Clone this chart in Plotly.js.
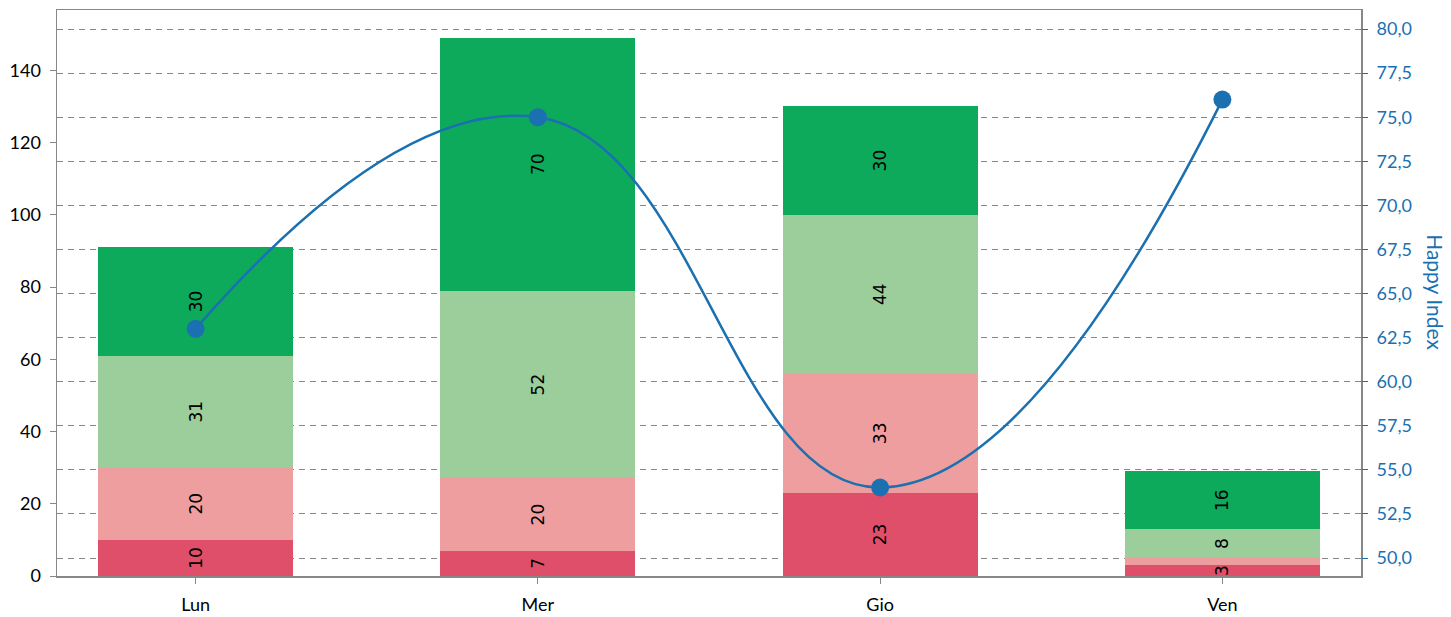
<!DOCTYPE html>
<html>
<head>
<meta charset="utf-8">
<script src="https://cdn.plot.ly/plotly-3.0.1.min.js"></script>
<style>html,body{margin:0;padding:0;background:#fff}#chart{width:1451px;height:617px}</style>
</head>
<body>
<div id="chart"></div>
<script>
const categories = ['Lun', 'Mer', 'Gio', 'Ven'];
const seriesA = [10, 7, 23, 3];     // dark red
const seriesB = [20, 20, 33, 2];    // light red
const seriesC = [31, 52, 44, 8];    // light green
const seriesD = [30, 70, 30, 16];   // green
const happyIndex = [63, 75, 54, 76];

const colors = ['#E04F69', '#EF9EA0', '#9BCE9B', '#0EAA5C'];
const lineColor = '#1A70B0';
const series = [seriesA, seriesB, seriesC, seriesD];

const traces = series.map((vals, i) => ({
  type: 'bar',
  x: categories,
  y: vals,
  marker: {color: colors[i], line: {width: 0}},
  text: vals.map(v => v >= 3 ? String(v) : ''),
  textposition: 'inside',
  insidetextanchor: 'middle',
  textangle: -90,
  constraintext: 'none',
  textfont: {family: 'DejaVu Sans', size: 17, color: '#000'},
  hoverinfo: 'none',
  showlegend: false
}));

traces.push({
  type: 'scatter',
  mode: 'lines+markers',
  x: categories,
  y: happyIndex,
  yaxis: 'y2',
  line: {color: lineColor, width: 2.5, shape: 'spline', smoothing: 1.3},
  marker: {color: lineColor, size: 18},
  showlegend: false
});

const fontFam = 'Lato, Source Sans Pro, sans-serif';
const tickFont = {family: fontFam, size: 18, color: '#000'};

const layout = {
  width: 1451,
  height: 617,
  margin: {l: 57, r: 90, t: 10, b: 41},
  barmode: 'stack',
  bargap: 0.43,
  separators: ',.',
  paper_bgcolor: '#fff',
  plot_bgcolor: '#fff',
  showlegend: false,
  xaxis: {
    type: 'category',
    range: [-0.405, 3.405],
    showline: true, mirror: true, linecolor: '#888', linewidth: 1.5,
    ticks: 'outside', ticklen: 6, tickcolor: '#888',
    ticklabelstandoff: 6,
    showgrid: false, zeroline: false,
    tickfont: tickFont
  },
  yaxis: {
    range: [0, 156.7],
    dtick: 20,
    showline: true, mirror: true, linecolor: '#888', linewidth: 1.5,
    ticks: 'outside', ticklen: 6, tickcolor: '#888',
    ticklabelstandoff: 5,
    showgrid: false, zeroline: false,
    tickfont: tickFont
  },
  yaxis2: {
    overlaying: 'y',
    side: 'right',
    range: [48.98, 81.08],
    dtick: 2.5,
    tick0: 50,
    tickformat: '.1f',
    showline: false,
    ticks: 'outside', ticklen: 6, tickcolor: lineColor,
    ticklabelstandoff: 5,
    showgrid: true, gridcolor: '#888', gridwidth: 1, griddash: '6px,5px',
    zeroline: false,
    tickfont: {family: fontFam, size: 18, color: lineColor}
  },
  annotations: [{
    text: 'Happy Index',
    xref: 'paper', yref: 'paper',
    x: 1.0565, y: 0.502,
    xanchor: 'center', yanchor: 'middle',
    textangle: 90,
    showarrow: false,
    font: {family: fontFam, size: 21, color: lineColor}
  }]
};

Plotly.newPlot('chart', traces, layout, {displayModeBar: false, staticPlot: true});
</script>
</body>
</html>
